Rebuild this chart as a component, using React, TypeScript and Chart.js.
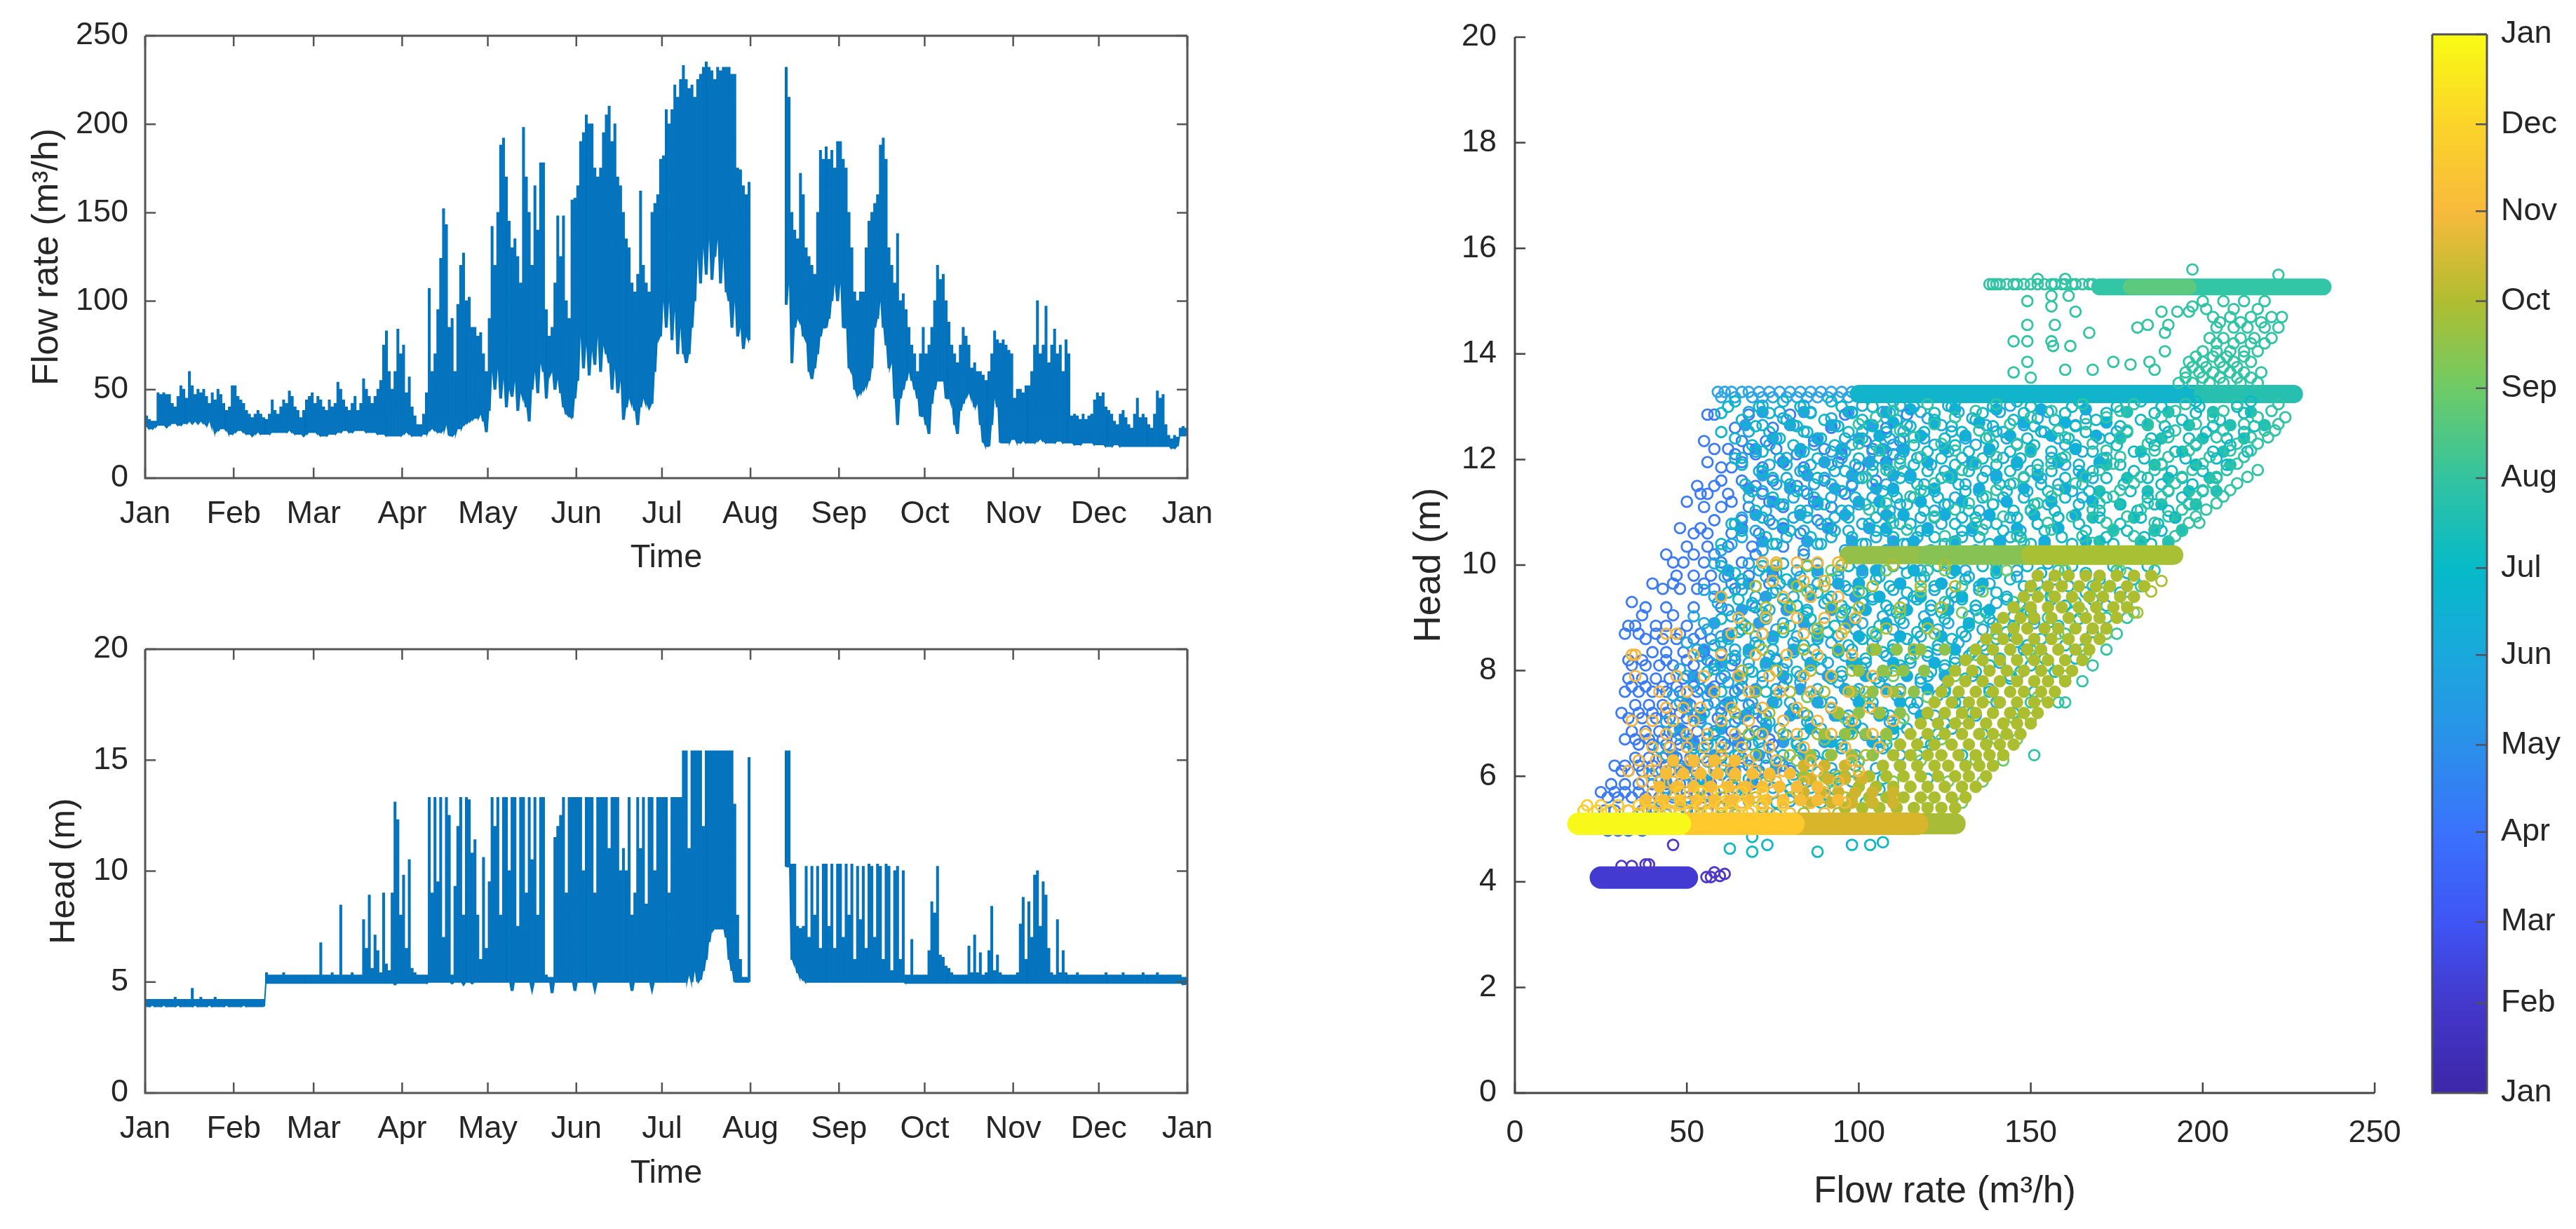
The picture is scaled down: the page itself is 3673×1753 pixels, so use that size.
import React, { useEffect, useRef } from "react";
import { Chart, registerables } from "chart.js";

Chart.register(...registerables);

const PAGE_W = 3673;
const PAGE_H = 1753;
const FONT = '"Liberation Sans", Arial, sans-serif';
const TEXT = "#262626";
const AXIS = "#555555";
const LINE = "#0072BD";

const monthLabels = ["Jan", "Feb", "Mar", "Apr", "May", "Jun", "Jul", "Aug", "Sep", "Oct", "Nov", "Dec", "Jan"];
const monthDays = [0, 31, 59, 90, 120, 151, 181, 212, 243, 273, 304, 334, 365];

const flowHigh: (number | null)[][] = [
  [35,33,32,32,48,47,48,47,47,42,40,46,52,50,45,60,52,47,50,48,50,46,42,48,44,50,47,42,38,40,52],
  [52,46,44,42,38,36,34,36,38,36,34,33,36,44,38,36,40,44,42,49,46,40,38,34,38,44,46,48],
  [42,46,44,40,38,44,40,42,54,50,44,40,38,42,46,38,42,56,50,46,42,46,50,55,75,83,60,50,60,84,70],
  [75,48,57,40,35,30,30,36,48,107,60,70,95,124,152,143,85,90,60,98,120,127,100,102,85,85,80,82,70,60],
  [90,142,120,150,188,192,170,145,130,135,125,110,198,170,150,120,165,140,178,178,95,80,85,110,148,125,148,100,90,157,158],
  [165,190,195,205,200,200,175,170,175,195,205,210,190,200,170,165,150,135,130,110,105,115,162,120,110,105,150,155,160,180],
  [182,208,200,208,222,215,225,233,225,220,222,215,225,228,232,235,232,230,225,232,230,232,232,232,228,228,175,174,165,160,167],
  [null,null,null,null,null,null,null,null,null,null,null,null,232,215,150,140,135,172,160,130,125,120,115,150,185,180,187,180,185,175,190],
  [190,180,175,150,130,105,100,105,105,130,145,150,155,160,188,192,180,130,120,110,138,100,104,95,85,75,70,60,70,85],
  [70,75,85,100,120,112,115,100,88,75,70,65,75,85,80,75,62,65,60,60,58,55,60,70,83,78,76,78,75,72,70],
  [45,50,50,48,52,52,60,75,100,70,75,97,65,75,84,70,75,60,78,70,35,36,35,33,36,33,35,36,44,48],
  [46,48,40,38,36,32,30,36,38,34,30,28,36,45,34,36,34,30,28,36,49,45,47,30,24,22,24,23,28,29,28],
];
const flowLow: (number | null)[][] = [
  [29,28,28,29,30,30,30,29,30,31,31,30,30,31,31,32,31,32,31,32,31,30,32,29,26,27,28,28,27,25,25],
  [26,27,27,26,25,25,24,25,26,25,25,25,25,26,26,26,26,26,26,27,26,25,25,25,24,25,26,26],
  [26,25,24,24,24,25,25,25,26,26,27,27,26,26,27,27,27,27,26,26,26,26,25,25,25,24,24,24,24,24,24],
  [25,26,25,24,24,24,24,25,25,27,28,27,26,26,27,30,24,24,25,28,28,30,31,32,33,34,34,36,32,26],
  [38,60,50,62,45,56,40,50,46,55,38,48,45,40,32,50,60,48,65,60,45,58,60,50,56,48,40,36,35,34,45],
  [55,80,62,75,58,72,64,80,60,75,70,65,50,62,48,55,33,40,45,42,38,30,40,45,42,40,42,60,78,80],
  [100,85,100,78,95,70,85,70,65,70,85,100,125,110,130,115,135,112,125,135,110,125,105,100,85,100,80,85,73,80,78],
  [null,null,null,null,null,null,null,null,null,null,null,null,98,110,65,85,90,88,80,78,60,56,62,70,80,85,85,90,100,110,100],
  [110,85,85,62,60,50,47,48,50,52,55,62,85,90,100,85,75,62,65,45,30,45,50,55,60,55,50,45,35,35],
  [30,25,42,50,55,55,55,45,45,42,30,25,38,42,46,48,45,40,42,30,20,18,18,30,45,40,20,20,20,20,22],
  [22,20,20,21,20,20,20,20,21,22,21,20,20,20,20,21,21,20,20,20,20,19,19,19,20,20,20,20,19,19],
  [19,19,18,18,18,19,19,18,18,18,18,18,18,18,18,18,18,18,18,18,18,18,18,18,18,17,17,18,24,24,24],
];

const headHigh: (number | null)[][] = [
  [4.2,4.2,4.2,4.2,4.2,4.2,4.2,4.2,4.2,4.2,4.3,4.2,4.2,4.2,4.2,4.2,4.7,4.2,4.2,4.3,4.2,4.2,4.2,4.2,4.3,4.2,4.2,4.2,4.2,4.2,4.2],
  [4.2,4.2,4.2,4.2,4.2,4.2,4.2,4.2,4.2,4.2,4.2,5.4,5.3,5.3,5.3,5.3,5.3,5.4,5.3,5.3,5.3,5.3,5.3,5.3,5.3,5.3,5.3,5.3],
  [5.3,5.3,6.75,5.3,5.3,5.3,5.4,5.3,5.3,8.45,5.3,5.3,5.3,5.4,5.3,5.3,5.3,7.8,6.5,8.9,5.6,7.1,6.4,5.4,9,5.8,5.5,9,13.1,12.3,8],
  [9.8,6.5,10.5,5.6,5.4,5.3,5.3,5.3,5.3,13.3,9,13.3,9.5,13.3,7,13.3,12.5,5.3,9.3,12,13.3,8,13.3,13.2,10.8,11.4,8,6,10.6,6.5],
  [9.5,13.3,12,13.3,8,13.3,13.3,10,13.3,13.3,7.5,13.3,13.3,9,13.3,10.5,13.3,8,13.3,13.3,5.3,5.2,5.2,11.5,12,12.5,13.3,9,13.3,13.3,13.3],
  [13.3,13.3,10,13.3,13.3,13.3,9,13.3,13.3,13.3,13.3,11,13.3,13.3,13.3,10,11,10,13.3,8,9,13.3,11,13.3,8.5,13.3,13.3,10,13.3,13.3],
  [13.3,13.3,9,13.3,13.3,13.3,13.3,15.4,15.4,11,15.4,15.4,15.4,15.4,12,15.4,15.4,15.4,15.4,15.4,15.4,15.4,15.4,15.4,15.4,13,8,6,5.2,5.2,15.1],
  [null,null,null,null,null,null,null,null,null,null,null,null,15.4,15.4,10.3,10.3,7.5,7.4,7.5,10.2,7,10.2,8,10.2,6.5,10.3,10.3,7.5,10.3,6.5,10.3],
  [10.3,7,10.3,8,10.3,6,10.2,7.8,10.2,6.5,10.3,10.2,7,10.3,10.2,6,10.3,10.2,5.5,10,10.2,6,10,5.3,5.3,6.9,5.3,5.3,5.3,5.3],
  [5.3,6.4,8.6,8.1,10.2,6.2,6.1,5.7,5.6,5.4,5.3,5.3,5.3,5.3,5.3,6.6,5.4,7.1,5.4,6.3,5.3,5.4,6.4,8.4,5.5,6.2,5.4,5.3,5.3,5.3,5.3],
  [5.3,5.4,7.6,8.8,6,8.6,7,9.8,10,7.5,9.5,8.9,6.5,5.4,5.3,7.8,5.4,6.4,5.4,5.3,5.3,5.3,5.4,5.3,5.3,5.3,5.3,5.3,5.3,5.3],
  [5.3,5.3,5.4,5.3,5.3,5.3,5.3,5.3,5.4,5.3,5.3,5.3,5.3,5.3,5.3,5.4,5.3,5.3,5.3,5.3,5.4,5.3,5.3,5.3,5.3,5.3,5.3,5.3,5.3,5.2,5.2],
];
const headLow: (number | null)[][] = [
  [3.9,3.9,3.95,3.9,3.9,3.9,3.95,3.9,3.9,3.9,3.9,3.95,3.9,3.9,3.9,3.9,3.9,3.95,3.9,3.9,3.9,3.9,3.95,3.9,3.9,3.9,3.9,3.9,3.95,3.9,3.9],
  [3.9,3.9,3.9,3.95,3.9,3.9,3.9,3.9,3.9,3.9,3.9,4.95,4.95,4.95,4.95,4.95,4.95,4.95,4.95,4.95,4.95,4.95,4.95,4.95,4.95,4.95,4.95,4.95],
  [4.95,4.95,4.95,4.95,4.95,4.95,4.95,4.95,4.95,4.95,4.95,4.95,4.95,4.95,4.95,4.95,4.95,4.95,4.95,4.95,4.95,4.95,4.95,4.95,4.95,4.95,4.95,4.95,4.9,4.95,4.95],
  [4.95,4.95,4.95,4.95,4.95,4.95,4.95,4.95,4.95,5,5,5,5,5,5,5,5,4.95,5,5,5,4.9,5,5,4.95,5,5,5,5,5],
  [5,5,5,5,5,5,5,5,4.6,5,5,5,5,5,5,4.7,5,5,5,5,5,5,4.5,5,5,5,5,5,5,5,4.6],
  [5,5,5,5,5,5,4.7,5,5,5,5,5,5,5,5,5,5,5,5,4.6,5,5,5,5,5,5,4.7,5,5,5],
  [5,5,5,5,5,5,5,5,5,5.3,5,5.5,5,5.1,5.5,6,6.8,7.3,7.4,7.4,7.4,7.4,7,6,5.5,5,5,5,5,5,5],
  [null,null,null,null,null,null,null,null,null,null,null,null,10.2,10.2,6,5.8,5.4,5.2,5.1,5,5,5,5,5,5,5,5,5,5,5,5],
  [5,5,5,5,5,5,5,5,5,5,5,5,5,5,5,5,5,5,5,5,5,5,5,4.95,4.95,4.95,4.95,4.95,4.95,4.95],
  [4.95,4.95,4.95,4.95,4.95,4.95,4.95,4.95,4.95,4.95,4.95,4.95,4.95,4.95,4.95,4.95,4.95,4.95,4.95,4.95,4.95,4.95,4.95,4.95,4.95,4.95,4.95,4.95,4.95,4.95,4.95],
  [4.95,4.95,4.95,4.95,4.95,4.95,4.95,4.95,4.95,4.95,4.95,4.95,4.95,4.95,4.95,4.95,4.95,4.95,4.95,4.95,4.95,4.95,4.95,4.95,4.95,4.95,4.95,4.95,4.95,4.95],
  [4.95,4.95,4.95,4.95,4.95,4.95,4.95,4.95,4.95,4.95,4.95,4.95,4.95,4.95,4.95,4.95,4.95,4.95,4.95,4.95,4.95,4.95,4.95,4.95,4.95,4.95,4.95,4.95,4.95,4.9,4.9],
];

type Rows = [number, number[]][];

const blueDiscRows: Rows = [
  [12.9,[72,84,97,108]],[12.65,[67,80,92,104]],[12.4,[75,88,100]],[12.2,[70,83,95,107]],[11.95,[78,90,103]],[11.7,[72,85,98,110]],
  [11.45,[68,80,93,105]],[11.2,[75,88,100]],[10.95,[70,83,96,108]],[10.7,[66,78,91,103]],[10.45,[72,85,98,110]],
  [9.9,[62,75,88,101]],[9.65,[68,81,94]],[9.4,[60,73,86,99]],[9.15,[66,79,92]],[8.9,[58,71,84,97]],[8.65,[62,75,88]],
  [8.4,[55,68,81,94]],[8.15,[60,73,86,99]],[7.9,[52,65,78,91]],[7.65,[57,70,83,96]],[7.4,[50,62,75,88]],[7.15,[54,67,80,93]],
  [6.9,[48,60,73,86]],[6.65,[52,65,78,90]],[6.4,[46,58,71,84]],[6.15,[50,63,76]],[5.9,[44,56,69]],
];
const cyanDiscRows: Rows = [
  [12.95,[115,128,140,153,166]],[12.7,[110,122,135,148,160,172]],[12.45,[106,118,131,144,156,169]],[12.2,[113,125,138,150,163]],
  [11.95,[108,120,133,146,158,170]],[11.7,[115,127,140,152,165]],[11.45,[110,122,135,148,160]],[11.2,[106,118,130,143,156,168]],
  [10.95,[113,125,138,151,163]],[10.7,[108,120,133,146,158]],[10.45,[116,128,141,154,166]],
  [9.9,[105,116,128,140]],[9.65,[100,112,124,136]],[9.4,[106,118,130]],[9.15,[102,114,126,138]],[8.9,[108,120,132]],[8.65,[100,112,124]],
  [8.4,[104,116,128]],[8.15,[98,110,122]],[7.9,[102,114,125]],[7.65,[96,108,120]],[7.4,[100,112]],[7.15,[94,106,118]],[6.9,[98,110]],[6.65,[92,104]],
];
const tealDiscRows: Rows = [
  [12.9,[178,190,203,214]],[12.65,[184,196,208,218]],[12.4,[176,188,200,212]],[12.15,[182,194,206]],[11.9,[172,186,198,208]],
  [11.65,[178,190,202]],[11.4,[170,184,196,204]],[11.15,[176,188,198]],[10.9,[168,180,192]],[10.65,[174,186,194]],[10.45,[170,182,190]],
];
const janRows: Rows = [
  [4.3,[31,34]],[4.33,[39,38]],[4.09,[55.7,57]],[4.18,[58]],[4.11,[59.6]],[4.15,[61]],[4.7,[46]],
];
const aprRows: Rows = [
  [9.3,[34]],[9.05,[37,46]],[8.85,[33,35,41,44,50]],[8.6,[38,43,47,52,57]],[8.35,[40,44,49,55,60]],
  [8.1,[34,38,42,46,52,58,63]],[7.85,[33,37,41,45,49,54,60,66]],[7.6,[32,36,40,44,48,53,57,64,70]],
  [7.35,[35,39,43,47,51,56,61,68]],[7.1,[33,37,41,45,50,54,59,65,72]],[6.85,[34,38,42,46,49,53,58,63,70]],
  [6.6,[36,40,44,48,52,56,61,67,75]],[6.35,[35,39,43,47,51,55,60,66,73]],[6.1,[31,33,37,41,45,49,53,58,64,71,80]],
  [5.85,[28,32,36,40,44,48,52,57,63,69]],[5.6,[27,30,34,38,42,46,50,55,61]],[5.35,[26,29,33,37,41,45,50,56]],
  [4.97,[27,30,33,37]],[9.55,[43,48,53,58,64]],[9.8,[47,52,57,62,68,75]],[10.05,[46,49,55,60,66,72]],
  [10.35,[50,56,62,69,78]],[10.6,[52,56,63,71,83]],[10.85,[58,66,74,88]],[11.1,[55,60,68,78,92]],
  [11.35,[54,56,62,72,85,96]],[11.6,[60,66,75,90,105]],[11.85,[60,63,72,84,100]],[12.1,[64,70,82,95,110]],
  [12.35,[55,66,73,87,102,112]],[12.6,[64,75,92,108]],[12.85,[56,58,68,80,96,114]],
  [12.2,[58,62,68,76,90,104]],[11.95,[56,66,78,94,108]],[11.5,[53,58,70,82,98]],[11.2,[50,63,74,87]],
  [10.7,[48,54,66,78,92]],[10.2,[44,52,58,70,84]],[9.65,[40,46,55,63,74]],[9.2,[38,44,52,60,70]],
  [8.7,[32,36,41,48,54,62,72]],[8.2,[33,37,44,50,56,64,76]],[7.7,[34,38,43,47,52,58,66,78]],
  [7.2,[31,36,40,44,48,53,60,70,82]],[6.7,[32,35,39,43,47,51,56,64,74]],[6.2,[29,32,36,40,44,48,52,58,68,78]],
  [5.7,[25,29,32,36,40,44,50,58,66]],
];
const junRows: Rows = [
  [12.9,[68,77,86,98,107,118,129,141,155]],[12.65,[72,81,93,103,114,124,137,148,163]],
  [12.4,[76,88,96,109,119,131,143,158,170]],[12.15,[70,83,92,104,113,126,138,150,165]],
  [11.9,[74,86,99,108,121,133,146,160]],[11.65,[79,90,101,115,127,140,153,168]],
  [11.4,[72,84,95,110,122,135,149,162]],[11.15,[77,88,100,112,125,139,155]],
  [10.9,[66,81,93,105,118,130,144,158]],[10.65,[70,84,97,108,120,133,147]],
  [10.4,[63,75,88,102,114,127,141,154]],[9.9,[62,71,82,94,106,118,131,146,160]],
  [9.65,[66,77,88,100,112,124,138,152]],[9.4,[58,70,81,92,104,116,128,143,156]],
  [9.15,[62,74,85,96,109,121,134,149]],[8.9,[55,66,78,90,101,113,126,139,151]],
  [8.65,[60,70,82,94,105,118,131,145]],[8.4,[53,64,75,87,98,110,123,137,148]],
  [8.15,[57,68,79,91,102,115,128,141]],[7.9,[50,61,72,83,95,107,120,133,144]],
  [7.65,[54,65,76,88,100,112,125,138]],[7.4,[48,58,69,80,92,104,117,130,140]],
  [7.15,[52,62,73,85,97,109,122,134]],[6.9,[46,56,66,77,89,101,114,127]],
  [6.65,[50,60,71,82,94,106,119]],[6.4,[44,54,64,75,87,99,112]],[6.15,[48,58,69,80,92,105]],
  [5.9,[42,52,62,73,85,98]],[5.65,[46,56,67,78,90]],[5.4,[40,50,60,72]],
  [13.02,[72,84,101,112,126,144]],[12.78,[78,92,108,120,133,152,166]],[12.53,[68,84,101,113,127,140,153,175]],
  [12.28,[74,87,98,110,122,134,146,160]],[12.03,[66,79,95,106,117,130,142,156,172]],[11.78,[71,83,93,104,113,125,137,150,164]],
  [11.53,[76,87,98,108,119,131,144,158]],[11.28,[68,81,92,104,116,128,142,165]],[11.03,[73,85,97,109,122,135,150]],
  [10.78,[63,75,89,101,112,124,137,152]],[10.53,[66,79,92,105,117,130,144]],[10.28,[60,72,84,96,108,121,134,148]],
  [10.03,[58,68,78,88,100,113,126,140,155]],[9.78,[61,73,83,94,106,119,132,146]],[9.53,[55,66,76,86,97,110,122,135,150]],
  [9.28,[59,69,79,90,101,113,126,140]],[9.03,[52,63,73,84,95,107,119,132,145]],[8.78,[56,66,76,87,99,110,123,136]],
  [8.53,[50,60,70,81,92,104,116,129]],[8.28,[54,64,74,85,96,108,120,132]],[8.03,[48,58,68,78,89,101,113,125]],
  [7.78,[52,62,72,83,94,106,118]],[7.53,[46,56,66,76,87,99,111,123]],[7.28,[50,60,70,81,92,104,116]],
  [7.03,[44,54,64,74,85,97,109]],[6.78,[48,58,68,79,90,102]],[6.53,[42,52,62,72,83,95,107]],
  [6.28,[46,56,66,77,88,100]],[6.03,[40,50,60,70,81,93]],[5.78,[44,54,64,75,86]],[5.53,[38,48,58,68,80]],[5.28,[36,44,54,64,76]],
];
const julRows: Rows = [
  [13.0,[62,71,83,95,104,116,127,139,150,162,175,188,199,210]],[12.75,[66,79,90,101,111,122,134,145,157,169,182,194,205]],
  [12.52,[60,74,85,97,108,119,130,142,154,166,178,190,201,212]],[12.27,[69,81,93,105,116,128,139,151,163,175,186,198,208]],
  [12.02,[64,77,88,100,112,124,136,147,159,171,183,195,204]],[11.78,[72,84,96,109,120,132,144,156,168,180,191,200]],
  [11.53,[67,80,92,104,117,129,141,153,165,177,188,197]],[11.28,[75,87,99,111,123,136,148,160,172,184,194]],
  [11.03,[70,83,95,107,119,132,145,157,170,181,190]],[10.78,[64,78,91,103,115,128,140,152,164,176,187]],
  [10.53,[73,86,98,110,122,135,147,159,172,183]],[9.98,[60,72,85,97,110,123,136,149,162,174,184]],
  [9.73,[66,79,92,105,118,131,144,157,170,180]],[9.48,[62,75,88,101,114,127,140,153,166,176]],
  [9.23,[69,82,95,108,121,134,147,160,172]],[8.98,[60,73,86,99,112,125,138,151,164]],
  [8.73,[65,78,91,104,117,130,143,156,168]],[8.48,[58,71,84,97,110,123,136,149,160]],
  [8.23,[63,76,89,102,115,128,141,154,163]],[7.98,[56,69,82,95,108,121,134,147,157]],
  [7.6,[60,73,86,99,112,125,138,151]],[7.2,[55,68,81,94,107,120,133,145]],[6.8,[58,71,84,97,110,123,136]],
  [6.4,[52,65,78,91,104,117,130]],[5.95,[55,68,81,94,107,120]],[5.5,[50,63,76,89,102]],
  [4.63,[62.5]],[4.57,[69,88]],[4.7,[73.4,98,103.3]],[4.75,[107]],[4.85,[69]],
  [13.1,[64,78,92,110,128,146,164,182,198,214]],[12.88,[60,74,86,98,109,122,136,148,160,172,186,198,212]],
  [12.63,[70,82,94,104,115,127,139,151,163,176,189,203,215]],[12.4,[64,77,89,101,113,125,137,149,161,173,185,196,207]],
  [12.15,[72,84,96,108,120,132,144,156,168,180,192,203,213]],[11.9,[66,79,92,104,116,128,140,152,164,176,188,198,207]],
  [11.65,[75,88,100,112,124,136,148,160,172,184,194,204]],[11.4,[69,82,95,107,119,131,143,155,167,179,190,200]],
  [11.15,[78,90,102,114,126,139,151,164,176,186,196]],[10.9,[72,85,97,109,122,134,146,158,170,182,192]],
  [10.65,[66,80,93,105,118,130,142,154,166,178,188]],[10.4,[60,76,89,101,113,125,138,150,162,174,185]],
  [9.85,[64,76,88,101,114,127,140,153,166,178]],[9.6,[70,83,96,109,122,135,148,161,173]],[9.35,[65,78,91,104,117,130,143,156,168]],
  [9.1,[72,85,98,111,124,137,150,162]],[8.85,[67,80,93,106,119,132,145,158]],[8.6,[62,75,88,101,114,127,140,153]],
  [8.35,[68,81,94,107,120,133,146]],[8.1,[60,73,86,99,112,125,138,150]],[7.85,[66,79,92,105,118,131,144]],
  [7.4,[63,76,89,102,115,128,141]],[7.0,[60,73,86,99,112,125]],[6.6,[56,69,82,95,108,121]],[6.2,[60,73,86,99,112]],[5.75,[54,67,80,93,106]],
];
const augRows: Rows = [
  [13.05,[120,140,165,180,195,210,222]],[12.8,[105,128,150,172,188,203,216,224]],[12.55,[112,135,158,178,192,206,218,221]],
  [12.3,[100,124,146,168,184,198,210,216]],[12.05,[118,140,160,176,190,202,212]],[11.8,[108,130,152,170,186,197,207,216]],
  [11.55,[122,145,163,180,192,203,210]],[11.3,[115,137,156,174,188,198,206]],[11.05,[103,128,150,168,182,194,201]],
  [10.8,[110,134,155,172,186,196,199]],[10.55,[125,146,165,180,192]],[9.9,[120,140,158,175,186]],[9.6,[130,150,168,182]],
  [9.3,[125,145,163,178]],[9.0,[135,155,172,178]],[8.7,[140,160,172,175]],[8.4,[150,165,172]],[8.1,[155,168]],
  [7.8,[160,165]],[7.4,[150,158,160]],[6.4,[151]],
  [12.92,[110,134,156,176,192,206,220]],[12.67,[100,122,144,166,184,198,212,222]],[12.42,[116,138,160,176,190,204,214,219]],
  [12.17,[106,128,150,172,186,196,208,214]],[11.92,[112,134,156,174,188,200,210]],[11.67,[102,126,148,166,182,194,204,213]],
  [11.42,[118,140,158,176,190,200,208]],[11.17,[108,132,152,170,184,196,204]],[10.92,[122,142,162,178,190,198]],
  [10.67,[114,136,156,174,186,194]],[10.42,[128,148,168,182,190]],
  [15.0,[149,200,206,212,218]],[15.1,[156,161]],[14.9,[156,197]],[14.8,[163,188,192.6,196]],[14.7,[203,208,214,220,223]],
  [14.55,[149,157,184,190]],[14.5,[181,204,209,213,218,222]],[14.4,[167,189]],[14.3,[202,206,211,215,220]],
  [14.24,[145,149,156]],[14.15,[156.5,161.5]],[14.05,[189,200,204,208,212,216]],[13.85,[149,174,184.5,196,200,205,209,214]],
  [13.8,[179]],[13.7,[160,168,186]],[13.65,[145,195,199,203,208,212,217]],[13.55,[150]],[13.45,[193,197,202,206,211,216]],
  [14.85,[201,209,216]],[14.6,[205,211,217]],[14.2,[204,209,214,218]],[13.95,[198,203,207,212]],[13.75,[197,201,206,210]],[13.55,[195,200,205,210,214]],
  [15.32,[138,139,140,141,143,145,146,148,150,152,154,156,157,159,160,162,163,165,167,168]],[15.6,[197]],[15.5,[222]],[15.42,[152,160]],
];
const band13Rings: Rows = [
  [13.28,[59,61,63,66,68,71,74,77,80,83,86,89,92,95,98]],[13.18,[60,64,69,72,75,79,82,85,88,91,94,97]],
];
const sepRows: Rows = [
  [9.9,[92,108,125,143,160,176]],[9.5,[85,100,118,136,154,170]],[9.1,[95,112,130,148,165,180]],
  [8.7,[88,105,122,140,158,172]],[8.3,[98,116,134,150,166]],[7.9,[92,110,128,146,160]],
  [7.5,[85,103,120,138,152]],[7.1,[96,113,130,145,150]],[6.7,[90,108,124,140,146]],
  [6.3,[82,100,118,134,142]],[5.9,[92,110,126,136]],[5.5,[85,104,120,130]],
];
const greenDiscRows: Rows = [
  [8.4,[105,111,118,125]],[8.0,[100,107,113,119]],[7.6,[98,104,110,116]],[7.2,[94,100,106,112]],
  [6.8,[90,96,102,108]],[6.4,[86,92,98,104]],[6.0,[84,90,96]],
];
const octRows: Rows = [
  [10.0,[76,85,95,110,125]],[9.6,[70,82,90,104,118,128]],[9.2,[73,80,92,100,112,124]],[8.8,[68,78,88,96,108,120]],
  [8.4,[72,84,94,104,116]],[8.0,[66,76,86,98,110]],[7.6,[70,80,90,102,112]],[7.2,[64,74,84,94,106]],
  [6.8,[68,78,88,98,108]],[6.4,[60,70,80,92,102]],[6.0,[64,74,84,94,100]],[5.6,[60,70,80,90,96]],[5.3,[62,72,84,94]],
  [9.7,[188]],[9.5,[185]],[9.1,[181]],
];
const octDiscRows: Rows = [
  [9.8,[152,157,161,166,170,175,180,185]],[9.6,[150,155,159,164,169,173,178,183]],[9.4,[148,152,157,162,167,171,176,180]],
  [9.2,[145,150,155,159,164,169,174,178]],[9.0,[142,147,151,156,161,166,170,175]],[8.8,[140,145,149,154,158,163,168,172]],
  [8.6,[137,142,146,151,156,161,166,170]],[8.4,[134,139,144,149,153,158,163,167]],[8.2,[131,136,141,146,151,155,160,165]],
  [8.0,[128,133,138,143,148,153,158,162]],[7.8,[126,131,136,141,146,151,155,160]],[7.6,[124,129,134,139,144,148,153,157]],
  [7.4,[122,127,132,136,141,146,151,155]],[7.2,[120,125,130,134,139,144,148,152]],[7.0,[118,123,128,132,137,142,146,150]],
  [6.8,[115,120,125,130,135,139,143,147]],[6.6,[112,117,122,127,132,137,141,145]],[6.4,[110,115,120,124,129,134,138,142]],
  [6.2,[107,112,117,122,126,131,135,139]],[6.0,[103,108,113,118,123,128,132,137]],[5.8,[100,105,110,115,120,125,130,134]],
  [5.6,[98,103,108,113,118,122,127,131]],[5.4,[96,101,106,111,116,120,124,128]],
];
const mustardDiscRows: Rows = [
  [6.2,[84,90,96]],[5.95,[86,91,96,101]],[5.7,[84,89,94,99,104,110]],[5.5,[86,92,98,104,110]],
];
const novRows: Rows = [
  [10.05,[72,76,82,88,94]],[9.7,[75,84,90]],[9.4,[60,78,86,94]],[9.0,[65,73,82,90,99]],[8.7,[44,47,63,72,84,95]],
  [8.3,[34,35,52,60,70,79,88,98]],[7.9,[35,47,55,65,74,84,92,104]],[7.6,[42,50,58,68,77,86,97,108]],
  [7.3,[44,49,54,63,72,82,92,103]],[7.05,[34,40,46,52,60,68,78,88,98,110]],[6.8,[38,44,50,56,64,72,82,92,104]],
  [6.55,[40,45,50,55,60,66,74,84,96,106]],[6.3,[36,41,46,51,56,61,68,76,86,98]],[6.1,[33,39,44,48,53,58,63,70,78,88,100]],
  [5.9,[37,42,46,50,54,59,64,70,76,84,94]],[5.7,[40,44,48,52,56,60,65,70,75,82,90]],[5.5,[38,42,46,50,54,58,62,66,72,78,86,96]],
  [5.3,[36,40,44,48,52,56,60,64,68,74,80,90]],
];
const goldDiscRows: Rows = [
  [6.3,[46,52,58,64]],[6.05,[44,49,54,59,64,69,74,80]],[5.8,[42,47,52,57,62,67,72,77,82,88]],[5.55,[38,43,48,53,58,63,68,73,78,83,88,94]],
];
const decRows: Rows = [
  [5.7,[48,54,60,66,72]],[5.45,[21,25,30,36,42,48,54,60,66,72,78]],[5.35,[20,24,28,33,39,45,51,57,63,69]],
];

type Band = [number, number, number, string, number];
const band4: Band[] = [[4.08, 25, 50, "#433ad2", 32]];
const band13: Band[] = [[13.24, 100, 200, "#12b4cc", 26], [13.24, 200, 226.5, "#27c0b0", 26]];
const band15: Band[] = [[15.27, 170, 235, "#33c6a6", 24], [15.27, 179, 196, "#5cc97f", 22]];
const band10: Band[] = [[10.19, 97, 120, "#94c04a", 26], [10.19, 120, 150, "#86c254", 28], [10.19, 150, 191.5, "#a8c034", 28]];
const band5: Band[] = [
  [5.1, 100, 128, "#a8bc38", 30],
  [5.1, 81, 117, "#d9b52b", 32],
  [5.1, 50, 81, "#fdc92c", 32],
  [5.1, 18.5, 48, "#f8f81a", 32],
];

const colorStops: string[] = [
  "#3d26a8", "#4338cc", "#3f55f5", "#3a72fc", "#2b90ea", "#1aa8dc", "#06bac8",
  "#33c3a0", "#6ecb66", "#b0bd30", "#f8ba3c", "#fbd42a", "#f9fb14",
];

function pulses(low: (number | null)[][], high: (number | null)[][]) {
  const out: { x: number; y: number | null }[] = [];
  high.forEach((month, m) =>
    month.forEach((h, i) => {
      const d = monthDays[m] + i;
      const l = low[m][i] ?? null;
      out.push({ x: d + 0.25, y: l }, { x: d + 0.25, y: h }, { x: d + 0.75, y: h }, { x: d + 0.75, y: l });
    })
  );
  return out;
}

const expand = (rows: Rows) => rows.flatMap(([y, xs]) => xs.map((x) => ({ x, y })));

const ringSet = (rows: Rows, color: string, filled = false) => ({
  type: "scatter",
  data: expand(rows),
  showLine: false,
  borderColor: color,
  backgroundColor: filled ? color : "transparent",
  pointBorderColor: color,
  pointBackgroundColor: filled ? color : "transparent",
  pointRadius: 7.5,
  pointBorderWidth: 2.8,
});

const bandSets = (bands: Band[]) =>
  bands.map(([y, x0, x1, color, width]) => ({
    type: "scatter",
    data: [{ x: x0, y }, { x: x1, y }],
    showLine: true,
    borderColor: color,
    borderWidth: width,
    borderCapStyle: "round",
    pointRadius: 0,
  }));

const axisFrame = (sides: { top?: boolean; right?: boolean }, tickSides: string[], tickLen = 15, color = AXIS) => ({
  id: "axisFrame",
  afterDatasetsDraw(chart: any) {
    const { ctx, chartArea: a, scales } = chart;
    ctx.save();
    ctx.strokeStyle = color;
    ctx.lineWidth = 3;
    ctx.beginPath();
    ctx.moveTo(a.left, a.top);
    ctx.lineTo(a.left, a.bottom);
    ctx.lineTo(a.right, a.bottom);
    if (sides.right) {
      ctx.lineTo(a.right, a.top);
    }
    if (sides.top) {
      ctx.moveTo(a.left, a.top);
      ctx.lineTo(a.right, a.top);
    }
    ctx.stroke();
    ctx.lineWidth = 2.5;
    ctx.beginPath();
    const x = scales.x;
    const y = scales.y;
    if (x && (tickSides.includes("bottom") || tickSides.includes("top"))) {
      x.ticks.forEach((t: any) => {
        const px = x.getPixelForValue(t.value);
        if (tickSides.includes("bottom")) { ctx.moveTo(px, a.bottom); ctx.lineTo(px, a.bottom - tickLen); }
        if (tickSides.includes("top")) { ctx.moveTo(px, a.top); ctx.lineTo(px, a.top + tickLen); }
      });
    }
    y.ticks.forEach((t: any) => {
      const py = y.getPixelForValue(t.value);
      if (tickSides.includes("left")) { ctx.moveTo(a.left, py); ctx.lineTo(a.left + tickLen, py); }
      if (tickSides.includes("right")) { ctx.moveTo(a.right, py); ctx.lineTo(a.right - tickLen, py); }
    });
    ctx.stroke();
    ctx.restore();
  },
});

const tickFont = { family: FONT, size: 45 };

const setTicks = (values: number[]) => (s: any) => {
  s.ticks = values.map((value) => ({ value }));
};

function timeChart(canvas: HTMLCanvasElement, box: any, points: any[], yMax: number, yStep: number, yTitle: string) {
  const yValues: number[] = [];
  for (let v = 0; v <= yMax; v += yStep) yValues.push(v);
  return new Chart(canvas, {
    type: "line",
    data: {
      datasets: [{
        data: points,
        borderColor: LINE,
        borderWidth: 2,
        pointRadius: 0,
        tension: 0,
        spanGaps: false,
      }],
    } as any,
    plugins: [axisFrame({ top: true, right: true }, ["bottom", "top", "left", "right"])],
    options: {
      animation: false,
      responsive: false,
      devicePixelRatio: 1,
      parsing: false,
      layout: { padding: { left: box.L - box.yw, right: PAGE_W - box.R, top: box.T, bottom: PAGE_H - box.B - box.xh } },
      plugins: { legend: { display: false }, tooltip: { enabled: false } },
      scales: {
        x: {
          type: "linear", min: 0, max: 365,
          grid: { display: false, drawTicks: false }, border: { display: false },
          afterBuildTicks: setTicks(monthDays),
          afterFit: (s: any) => { s.height = box.xh; },
          ticks: { autoSkip: false, maxRotation: 0, padding: 25, font: tickFont, color: TEXT, callback: (_v: any, i: number) => monthLabels[i] },
          title: { display: true, text: "Time", font: { family: FONT, size: 47 }, color: TEXT, padding: 0 },
        },
        y: {
          type: "linear", min: 0, max: yMax,
          grid: { display: false, drawTicks: false }, border: { display: false },
          afterBuildTicks: setTicks(yValues),
          afterFit: (s: any) => { s.width = box.yw; },
          ticks: { padding: 24, font: tickFont, color: TEXT },
          title: { display: true, text: yTitle, font: { family: FONT, size: box.tf }, color: TEXT, padding: 0 },
        },
      },
    } as any,
  });
}

function scatterChart(canvas: HTMLCanvasElement) {
  const C = { jan: "#5038c8", apr: "#3b7cf5", jun: "#1ea8de", jul: "#0cb8c8", aug: "#2fc4a4", sep: "#6ecb66", oct: "#acbe30", nov: "#f4b63c", dec: "#fccc2c" };
  const bottomToTop: any[] = [
    ...bandSets(band4),
    ringSet(janRows, C.jan),
    ringSet(blueDiscRows, "#2e9fe6", true),
    ringSet(cyanDiscRows, "#14aedc", true),
    ringSet(tealDiscRows, "#22c0b4", true),
    ringSet(aprRows, C.apr),
    ringSet(band13Rings, "#2fa4e6"),
    ringSet(junRows, C.jun),
    ...bandSets(band13),
    ringSet(julRows, C.jul),
    ringSet(augRows, C.aug),
    ...bandSets(band15),
    ringSet(sepRows, C.sep),
    ringSet(greenDiscRows, "#8fc24c", true),
    ...bandSets(band10),
    ringSet(octDiscRows, C.oct, true),
    ringSet(octRows, C.oct),
    ringSet(mustardDiscRows, "#cfb52e", true),
    ringSet(novRows, C.nov),
    ringSet(goldDiscRows, "#f5bd38", true),
    ringSet(decRows, C.dec),
    ...bandSets(band5),
  ];
  const box = { L: 2160, R: 3386, T: 49, B: 1559, yw: 153, xh: 173 };
  return new Chart(canvas, {
    type: "scatter",
    data: { datasets: bottomToTop.reverse() } as any,
    plugins: [axisFrame({}, ["left", "bottom"], 15, "#444444")],
    options: {
      animation: false,
      responsive: false,
      devicePixelRatio: 1,
      parsing: false,
      layout: { padding: { left: box.L - box.yw, right: PAGE_W - box.R, top: box.T, bottom: PAGE_H - box.B - box.xh } },
      plugins: { legend: { display: false }, tooltip: { enabled: false } },
      scales: {
        x: {
          type: "linear", min: 0, max: 250,
          grid: { display: false, drawTicks: false }, border: { display: false },
          afterBuildTicks: setTicks([0, 50, 100, 150, 200, 250]),
          afterFit: (s: any) => { s.height = box.xh; },
          ticks: { autoSkip: false, maxRotation: 0, padding: 31, font: tickFont, color: TEXT },
          title: { display: true, text: "Flow rate (m³/h)", font: { family: FONT, size: 53 }, color: TEXT, padding: 0 },
        },
        y: {
          type: "linear", min: 0, max: 20,
          grid: { display: false, drawTicks: false }, border: { display: false },
          afterBuildTicks: setTicks([0, 2, 4, 6, 8, 10, 12, 14, 16, 18, 20]),
          afterFit: (s: any) => { s.width = box.yw; },
          ticks: { padding: 26, font: tickFont, color: TEXT },
          title: { display: true, text: "Head (m)", font: { family: FONT, size: 53 }, color: TEXT, padding: 0 },
        },
      },
    } as any,
  });
}

function colorbarChart(canvas: HTMLCanvasElement) {
  const box = { L: 3468, R: 3546, T: 49, B: 1559 };
  return new Chart(canvas, {
    type: "bar",
    data: {
      labels: [""],
      datasets: [{
        data: [[0, 365]],
        barPercentage: 1,
        categoryPercentage: 1,
        backgroundColor: (ctx: any) => {
          const { chart } = ctx;
          const a = chart.chartArea;
          if (!a) return colorStops[0];
          const g = chart.ctx.createLinearGradient(0, a.bottom, 0, a.top);
          colorStops.forEach((c, i) => g.addColorStop(monthDays[i] / 365, c));
          return g;
        },
      }],
    } as any,
    plugins: [axisFrame({ top: true, right: true }, ["right"], 16, "#50505a")],
    options: {
      animation: false,
      responsive: false,
      devicePixelRatio: 1,
      layout: { padding: { left: box.L, right: PAGE_W - box.R - 127, top: box.T, bottom: PAGE_H - box.B } },
      plugins: { legend: { display: false }, tooltip: { enabled: false } },
      scales: {
        x: { display: false, grid: { display: false } },
        y: {
          position: "right", type: "linear", min: 0, max: 365,
          grid: { display: false, drawTicks: false }, border: { display: false },
          afterBuildTicks: setTicks(monthDays),
          afterFit: (s: any) => { s.width = 127; },
          ticks: { autoSkip: false, padding: 20, font: tickFont, color: TEXT, callback: (_v: any, i: number) => monthLabels[i] },
        },
      },
    } as any,
  });
}

export default function App() {
  const a = useRef<HTMLCanvasElement>(null);
  const b = useRef<HTMLCanvasElement>(null);
  const c = useRef<HTMLCanvasElement>(null);
  const d = useRef<HTMLCanvasElement>(null);
  useEffect(() => {
    const charts = [
      timeChart(a.current!, { L: 207, R: 1693, T: 49, B: 682, yw: 171, xh: 142, tf: 52 }, pulses(flowLow, flowHigh), 250, 50, "Flow rate (m³/h)"),
      timeChart(b.current!, { L: 207, R: 1693, T: 926, B: 1559, yw: 145, xh: 143, tf: 50 }, pulses(headLow, headHigh), 20, 5, "Head (m)"),
      scatterChart(c.current!),
      colorbarChart(d.current!),
    ];
    return () => charts.forEach((ch) => ch.destroy());
  }, []);
  const style: React.CSSProperties = { position: "absolute", left: 0, top: 0, display: "block" };
  return (
    <div style={{ position: "absolute", left: 0, top: 0, width: PAGE_W, height: PAGE_H, background: "#fff", overflow: "hidden" }}>
      <canvas ref={a} width={PAGE_W} height={PAGE_H} style={style} />
      <canvas ref={b} width={PAGE_W} height={PAGE_H} style={style} />
      <canvas ref={c} width={PAGE_W} height={PAGE_H} style={style} />
      <canvas ref={d} width={PAGE_W} height={PAGE_H} style={style} />
    </div>
  );
}
